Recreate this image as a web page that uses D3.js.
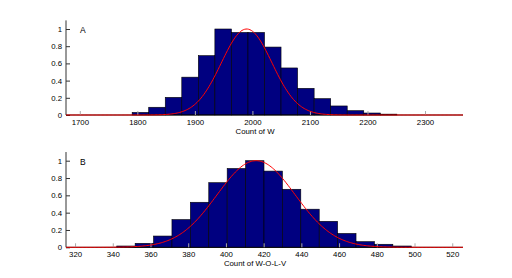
<!DOCTYPE html>
<html>
<head>
<meta charset="utf-8">
<script src="https://cdn.jsdelivr.net/npm/d3@7"></script>
<style>
  body { margin: 0; background: #fff; }
  text { font-family: "Liberation Sans", Arial, sans-serif; }
</style>
</head>
<body>
<script>
// panel A : Count of W
var binStartA = 1791, binWidthA = 28.75;
var countsA = [0.03, 0.09, 0.205, 0.44, 0.69, 1.0, 0.96, 0.96, 0.79, 0.547, 0.31, 0.19, 0.105, 0.05, 0.023, 0.01];
var xDomainA = [1676, 2366];
var xTicksA = [1700, 1800, 1900, 2000, 2100, 2200, 2300];
var fitA = { mu: 1990, sigma: 44 };

// panel B : Count of W-O-L-V
var binStartB = 342.1, binWidthB = 9.76;
var countsB = [0.015, 0.046, 0.13, 0.32, 0.52, 0.746, 0.91, 1.0, 0.88, 0.67, 0.44, 0.30, 0.16, 0.065, 0.035, 0.015];
var xDomainB = [315.2, 525.7];
var xTicksB = [320, 340, 360, 380, 400, 420, 440, 460, 480, 500, 520];
var fitB = { mu: 416, sigma: 20.7 };

var yTicks = [0, 0.2, 0.4, 0.6, 0.8, 1];

var svg = d3.select("body").append("svg")
    .attr("width", 512)
    .attr("height", 278);

function panel(opts) {
  var x = d3.scaleLinear().domain(opts.xDomain).range([66, 463]);
  var y = d3.scaleLinear().domain([0, 1]).range([opts.y0, opts.y0 - opts.unit]);
  var g = svg.append("g");

  // bars
  g.selectAll("rect.bar").data(opts.counts).enter().append("rect")
      .attr("class", "bar")
      .attr("x", function(d, i) { return x(opts.binStart + i * opts.binWidth); })
      .attr("width", function(d, i) { return x(opts.binStart + (i + 1) * opts.binWidth) - x(opts.binStart + i * opts.binWidth); })
      .attr("y", function(d) { return y(d); })
      .attr("height", function(d) { return y(0) - y(d); })
      .attr("fill", "#000080")
      .attr("stroke", "#000")
      .attr("stroke-width", 0.6);

  // axes
  var yAxis = d3.axisLeft(y).tickValues(yTicks).tickSize(-4).tickPadding(4)
      .tickFormat(function(d) { return d3.format("~g")(d); });
  var gy = g.append("g").attr("transform", "translate(66,0)").call(yAxis);
  gy.select(".domain").remove();
  gy.selectAll(".tick line").attr("stroke", "#333");
  gy.append("line").attr("x1", 0).attr("x2", 0)
      .attr("y1", y(0)).attr("y2", y(1.1))
      .attr("stroke", "#333");

  var xAxis = d3.axisBottom(x).tickValues(opts.xTicks).tickSize(-4).tickPadding(4)
      .tickFormat(d3.format("d"));
  var gx = g.append("g").attr("transform", "translate(0," + opts.y0 + ")").call(xAxis);
  gx.select(".domain").attr("stroke", "#000").attr("d", "M66,0H463");
  gx.selectAll(".tick line").attr("stroke", "#aaa");

  svg.selectAll("g.tick text").attr("fill", "#000")
      .style("font-family", "'Liberation Sans', Arial, sans-serif")
      .style("font-size", "7.8px");

  // fitted normal curve
  var pts = d3.range(0, 301).map(function(i) {
    var v = opts.xDomain[0] + (opts.xDomain[1] - opts.xDomain[0]) * i / 300;
    var z = (v - opts.fit.mu) / opts.fit.sigma;
    return [v, Math.exp(-0.5 * z * z)];
  });
  g.append("path").datum(pts)
      .attr("fill", "none")
      .attr("stroke", "#ff0000")
      .attr("stroke-width", 1)
      .attr("d", d3.line().x(function(d) { return x(d[0]); }).y(function(d) { return y(d[1]); }));

  g.append("text").attr("x", 80).attr("y", opts.y0 - opts.unit + 4)
      .style("font-size", "8.5px").text(opts.letter);
  g.append("text").attr("x", 255).attr("y", opts.y0 + 18.5)
      .attr("text-anchor", "middle")
      .style("font-size", "7.8px").text(opts.label);
}

panel({ xDomain: xDomainA, xTicks: xTicksA, counts: countsA, binStart: binStartA, binWidth: binWidthA,
        fit: fitA, y0: 115, unit: 86, letter: "A", label: "Count of W" });
panel({ xDomain: xDomainB, xTicks: xTicksB, counts: countsB, binStart: binStartB, binWidth: binWidthB,
        fit: fitB, y0: 247.3, unit: 86.6, letter: "B", label: "Count of W-O-L-V" });
</script>
</body>
</html>
